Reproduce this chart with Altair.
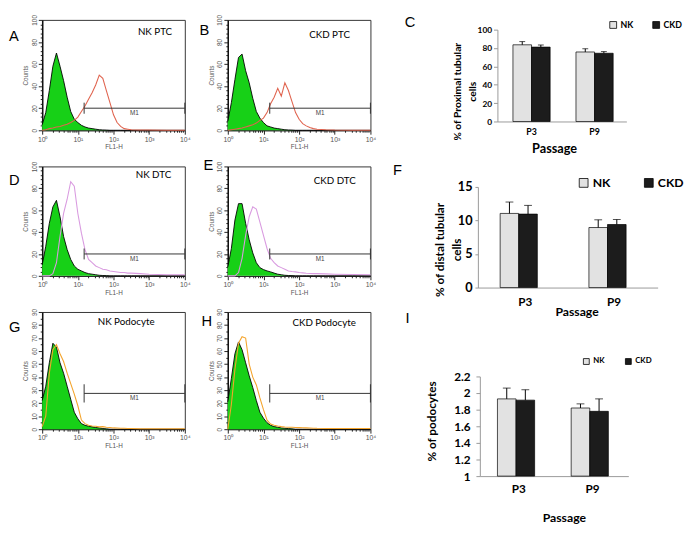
import altair as alt
import pandas as pd

# ---------------- Flow cytometry histograms (FL1-H, log axis) ----------------
LOG_BINS = [0.0, 0.1, 0.2, 0.3, 0.4, 0.5, 0.6, 0.7, 0.8, 0.9, 1.0, 1.1, 1.2, 1.3, 1.4,
            1.5, 1.6, 1.7, 1.8, 1.9, 2.0, 2.1, 2.2, 2.3, 2.4, 2.5, 2.75, 3.0, 3.5, 4.0]

A_NEG = [5, 16, 36, 58, 70, 58, 45, 30, 17, 10, 7, 4.5, 3, 2, 1.5, 1, 0.5, 0.3, 0.2, 0, 0, 0, 0, 0, 0, 0, 0, 0, 0, 0]
A_POS = [0, 0.5, 1.5, 2, 3, 3.5, 4.5, 5.5, 7, 9, 12, 17, 22, 28, 34, 41, 50, 47, 36, 25, 14, 7, 3.5, 1.5, 1, 0.5, 0.3, 0.2, 0, 0]
B_NEG = [8, 25, 46, 66, 69, 54, 43, 29, 17, 11, 7, 4, 3, 2, 1.5, 1, 0.5, 0.3, 0.2, 0, 0, 0, 0, 0, 0, 0, 0, 0, 0, 0]
B_POS = [0, 0.5, 1, 1.5, 2, 3, 4, 5, 6.5, 9, 11, 16, 24, 30, 38, 31, 43, 36, 26, 16, 10, 6, 4, 2.5, 1.5, 1, 0.5, 0.2, 0, 0]
D_NEG = [10, 27, 48, 63, 69, 54, 36, 24, 15, 9, 6, 4.5, 3, 2, 1.5, 1, 0.5, 0.3, 0.2, 0, 0, 0, 0, 0, 0, 0, 0, 0, 0, 0]
D_POS = [0, 0, 0, 2, 12, 36, 57, 70, 86, 82, 57, 39, 24, 15, 12, 9, 7.5, 6, 5.5, 4.5, 4, 3.5, 3, 3, 2.5, 2.5, 2, 1.5, 1, 1]
E_NEG = [8, 25, 51, 66, 66, 48, 33, 21, 12, 7.5, 5.7, 4.5, 3.6, 2.5, 1.5, 1, 0.5, 0.3, 0.2, 0, 0, 0, 0, 0, 0, 0, 0, 0, 0, 0]
E_POS = [0, 0, 0, 3, 16, 37, 54, 63, 61, 49, 37, 25, 16, 12, 9, 7.5, 6, 4.5, 4, 3.6, 3, 2.7, 2.4, 2.2, 2, 2, 1.8, 1.5, 1.2, 1]
G_NEG = [22, 33, 51, 66, 63, 51, 43, 33, 23, 13, 8, 4.3, 3, 2.3, 1.8, 1.3, 1, 0.5, 0.3, 0, 0, 0, 0, 0, 0, 0, 0, 0, 0, 0]
G_POS = [2, 10, 43, 61, 65, 58, 52, 43, 35, 27, 18, 7, 4.3, 3, 2.5, 2.3, 1.8, 2, 1.5, 1.3, 1, 0.9, 0.8, 0.7, 0.6, 0.5, 0.4, 0.3, 0.3, 0.3]
H_NEG = [21, 39, 58, 67, 61, 51, 41, 32, 22, 13, 8.5, 5, 3, 2, 1.5, 1, 0.7, 0.5, 0.3, 0, 0, 0, 0, 0, 0, 0, 0, 0, 0, 0]
H_POS = [0, 19, 46, 66, 71, 70, 50, 40, 34, 24, 15, 7, 4, 3, 2.4, 2, 1.7, 1.5, 1.5, 1.3, 1.2, 1.1, 1, 0.9, 0.8, 0.7, 0.6, 0.5, 0.5, 0.5]

HIST_LABELS = ["NK PTC", "CKD PTC", "NK DTC", "CKD DTC", "NK Podocyte", "CKD Podocyte"]
GATE_START = 15
GATE_END = 10000

# ---------------- Bar charts ----------------
PASSAGES = ["P3", "P9"]
GROUPS = ["NK", "CKD"]
PTC_NK = [83.5, 75.7]
PTC_NK_ERR = [3.5, 3.5]
PTC_CKD = [81.0, 74.3]
PTC_CKD_ERR = [2.3, 1.8]
DTC_NK = [11.05, 8.95]
DTC_NK_ERR = [1.7, 1.15]
DTC_CKD = [10.95, 9.4]
DTC_CKD_ERR = [1.3, 0.75]
POD_NK = [1.93, 1.82]
POD_NK_ERR = [0.13, 0.05]
POD_CKD = [1.915, 1.78]
POD_CKD_ERR = [0.125, 0.15]

HIST_W = 146
HIST_FONT = "Liberation Sans"
BAR_FONT = "Lato"
GREEN = "#17d017"
RED = "#e0644f"
PINK = "#d99be0"
ORANGE = "#f4a42c"
NK_FILL = "#e2e2e2"
CKD_FILL = "#1c1c1c"
ONE = pd.DataFrame({"k": [0]})


def hist_panel(neg, pos, pos_color, label, letter, letter_xy, label_xy,
               ymax, ystep, ymajor, gate_y, gate_half, height):
    df = pd.DataFrame({"fl": [10 ** e for e in LOG_BINS], "neg": neg, "pos": pos})
    dec = "abs(log(datum.value)/LN10 - round(log(datum.value)/LN10)) < 0.001"
    sup = "['\u2070','\u00b9','\u00b2','\u00b3','\u2074']"
    xvals = [m * 10 ** k for k in range(4) for m in range(1, 10)] + [10000]
    xaxis = alt.Axis(
        values=xvals, tickCount=500, title="FL1-H",
        labelExpr=dec + " ? '10' + " + sup + "[round(log(datum.value)/LN10)] : ''",
        tickSize={"condition": {"test": dec, "value": 4}, "value": 2},
        labelOverlap=False, labelFlush=False, labelFont=HIST_FONT, labelFontSize=7,
        labelColor="#555", labelPadding=1, titleFont=HIST_FONT, titleFontSize=6.5,
        titleFontWeight="normal", titleColor="#555", titlePadding=2,
        domainColor="#222", tickColor="#222", grid=False)
    yis = f"datum.value % {ymajor} === 0"
    yaxis = alt.Axis(
        values=list(range(0, ymax + 1, ystep)), tickCount=500, format="d", title="Counts",
        labelExpr=yis + " ? datum.label : ''",
        tickSize={"condition": {"test": yis, "value": 4}, "value": 2},
        labelOverlap=False, labelAngle=270, labelAlign="center", labelBaseline="bottom",
        labelFont=HIST_FONT, labelFontSize=6.5, labelColor="#555", labelPadding=1,
        titleFont=HIST_FONT, titleFontSize=6.5, titleFontWeight="normal", titleColor="#555",
        titlePadding=3, domainColor="#111", domainWidth=1.5, tickColor="#222", grid=False)
    xs = alt.Scale(type="log", domain=[1, 10000])
    ys = alt.Scale(domain=[0, ymax], nice=False)
    area = alt.Chart(df).mark_area(
        color=GREEN, opacity=1, line={"color": "black", "strokeWidth": 0.9}
    ).encode(x=alt.X("fl:Q", scale=xs, axis=xaxis), y=alt.Y("neg:Q", scale=ys, axis=yaxis))
    line = alt.Chart(df).mark_line(color=pos_color, strokeWidth=1.1).encode(
        x=alt.X("fl:Q", title="FL1-H"), y=alt.Y("pos:Q", title="Counts"))
    gate = alt.Chart(ONE).mark_rule(color="#333", strokeWidth=1).encode(
        x=alt.X(datum=GATE_START, title="FL1-H"), x2=alt.X2(datum=GATE_END),
        y=alt.Y(datum=gate_y, title="Counts"))
    gate_df = pd.DataFrame({"gx": [GATE_START, GATE_END]})
    ends = alt.Chart(gate_df).mark_rule(color="#333", strokeWidth=1).encode(
        x=alt.X("gx:Q", title="FL1-H"), y=alt.Y(datum=gate_y - gate_half, title="Counts"),
        y2=alt.Y2(datum=gate_y + gate_half))
    m1 = alt.Chart(ONE).mark_text(font=HIST_FONT, fontSize=6.5, color="#444", baseline="top", dy=2).encode(
        x=alt.X(datum=(GATE_START * GATE_END) ** 0.5, title="FL1-H"),
        y=alt.Y(datum=gate_y, title="Counts"), text=alt.value("M1"))
    ttl = alt.Chart(ONE).mark_text(font=BAR_FONT, fontSize=10, color="black", align="right",
                                   baseline="middle").encode(
        x=alt.value(label_xy[0]), y=alt.value(label_xy[1]), text=alt.value(label))
    let = alt.Chart(ONE).mark_text(font=HIST_FONT, fontSize=15, color="black", align="left",
                                   baseline="middle").encode(
        x=alt.value(letter_xy[0]), y=alt.value(letter_xy[1]), text=alt.value(letter))
    return alt.layer(area, line, gate, ends, m1, ttl, let).properties(
        width=HIST_W, height=height, view=alt.ViewBackground(stroke="#333", strokeWidth=1))


def bar_panel(nk, nk_err, ckd, ckd_err, ymin, ymax, yvals, ytitle, c):
    rows = []
    for i, p in enumerate(PASSAGES):
        rows.append({"Passage": p, "Group": "NK", "value": nk[i], "top": nk[i] + nk_err[i]})
        rows.append({"Passage": p, "Group": "CKD", "value": ckd[i], "top": ckd[i] + ckd_err[i]})
    df = pd.DataFrame(rows)
    xs = alt.Scale(range=[c["x0"], c["x1"]], paddingInner=c["pi"], paddingOuter=c["po"], align=c["align"])
    xaxis = alt.Axis(
        title="Passage", labelAngle=0, ticks=False, offset=c["xoff"], labelFont=BAR_FONT,
        labelFontWeight="bold", labelFontSize=c["xl"], labelColor="black", labelPadding=c["xlp"],
        domainColor="#999", titleFont=BAR_FONT, titleFontWeight="bold", titleFontSize=c["xt"],
        titleColor="black", titleX=c["tx"], titleY=c["ty"], titleBaseline="middle",
        titleAlign="center", grid=False)
    ys = alt.Scale(domain=[ymin, ymax], range=[c["y0"], c["y1"]], nice=False, zero=False)
    yaxis = alt.Axis(
        values=yvals, tickCount=500, format=".1~f", title=ytitle, offset=-c["x0"],
        labelOverlap=False, labelFont=BAR_FONT, labelFontWeight="bold", labelFontSize=c["yl"],
        labelColor="black", labelPadding=c["ylp"], tickSize=c["yts"], tickColor="#999",
        domainColor="#999", titleFont=BAR_FONT, titleFontWeight="bold", titleFontSize=c["ytf"],
        titleColor="black", titleX=c["ytx"], titleY=c["yty"], titleBaseline="middle",
        titleAlign="center", titleLineHeight=c["ylh"], grid=False)
    xo = alt.XOffset("Group:N", sort=GROUPS, scale=alt.Scale(paddingInner=0, paddingOuter=0))
    legend = alt.Legend(
        orient="none", legendX=c["lx"], legendY=c["ly"], direction="horizontal", title=None,
        symbolType="square", symbolSize=c["ls"], symbolStrokeColor="black", symbolStrokeWidth=0.8,
        symbolOpacity=1, labelFont=BAR_FONT, labelFontWeight="bold", labelFontSize=c["lf"],
        labelColor="black", labelOffset=3, columnPadding=c["lcp"], padding=0)
    bars = alt.Chart(df).mark_bar(stroke="black", strokeWidth=0.7).encode(
        x=alt.X("Passage:N", sort=PASSAGES, scale=xs, axis=xaxis),
        xOffset=xo,
        y=alt.Y("value:Q", scale=ys, axis=yaxis),
        y2=alt.Y2(datum=ymin),
        fill=alt.Fill("Group:N", sort=GROUPS,
                      scale=alt.Scale(domain=GROUPS, range=[NK_FILL, CKD_FILL]), legend=legend))
    err = alt.Chart(df).mark_rule(color="black", strokeWidth=1).encode(
        x=alt.X("Passage:N", sort=PASSAGES, title="Passage"),
        xOffset=alt.XOffset("Group:N", sort=GROUPS),
        y=alt.Y("value:Q", title=ytitle), y2="top:Q")
    cap = alt.Chart(df).mark_tick(color="black", thickness=1, size=c["cap"]).encode(
        x=alt.X("Passage:N", sort=PASSAGES, title="Passage"),
        xOffset=alt.XOffset("Group:N", sort=GROUPS),
        y=alt.Y("top:Q", title=ytitle))
    let = alt.Chart(ONE).mark_text(font=HIST_FONT, fontSize=15, color="black", align="left",
                                   baseline="middle").encode(
        x=alt.value(c["letx"]), y=alt.value(c["lety"]), text=alt.value(c["letter"]))
    return alt.layer(bars, err, cap, let).properties(width=c["w"], height=c["h"])


C_CFG = dict(w=218, h=104, x0=86, x1=218, y0=104, y1=10, pi=0.41, po=0.228, align=0.54, xoff=0,
             xl=9, xlp=6, xt=13, tx=144, ty=28, yl=8.5, ylp=2, yts=4, ytf=10.5, ytx=-40.5,
             yty=73, ylh=15, lx=200, ly=0.5, ls=49, lf=9, lcp=17, cap=6,
             letter="C", letx=-9, lety=2)
F_CFG = dict(w=250, h=112, x0=66, x1=250, y0=124, y1=21, pi=0.435, po=0.23, align=0.545, xoff=12,
             xl=12, xlp=9, xt=12.5, tx=167, ty=25, yl=13, ylp=3, yts=3, ytf=12, ytx=-39,
             yty=85, ylh=17, lx=168, ly=10.5, ls=81, lf=12.5, lcp=32.7, cap=8,
             letter="F", letx=-21, lety=4)
I_CFG = dict(w=220, h=168, x0=68, x1=220, y0=168, y1=66, pi=0.424, po=0.219, align=0.545, xoff=0,
             xl=12, xlp=8, xt=12.5, tx=154, ty=42, yl=12, ylp=6, yts=4, ytf=12, ytx=-49.5,
             yty=111.5, ylh=15, lx=173, ly=46.5, ls=36, lf=8, lcp=19, cap=8,
             letter="I", letx=-8, lety=6)

pA = hist_panel(A_NEG, A_POS, RED, HIST_LABELS[0], "A", (-34, 17), (133, 12), 100, 4, 20, 20, 5, 113)
pB = hist_panel(B_NEG, B_POS, RED, HIST_LABELS[1], "B", (-29, 10), (125, 16), 100, 4, 20, 20, 5, 113)
pD = hist_panel(D_NEG, D_POS, PINK, HIST_LABELS[2], "D", (-34, 14), (132, 9), 100, 4, 20, 20, 5, 112)
pE = hist_panel(E_NEG, E_POS, PINK, HIST_LABELS[3], "E", (-25, -1), (131, 15), 100, 4, 20, 20, 5, 112)
pG = hist_panel(G_NEG, G_POS, ORANGE, HIST_LABELS[4], "G", (-34, 15), (115, 10), 90, 5, 10, 27.5, 7, 120)
pH = hist_panel(H_NEG, H_POS, ORANGE, HIST_LABELS[5], "H", (-27, 9), (131, 11), 90, 5, 10, 27.5, 7, 120)

pC = bar_panel(PTC_NK, PTC_NK_ERR, PTC_CKD, PTC_CKD_ERR, 0, 100, [0, 20, 40, 60, 80, 100],
               ["% of Proximal tubular", "cells"], C_CFG)
pF = bar_panel(DTC_NK, DTC_NK_ERR, DTC_CKD, DTC_CKD_ERR, 0, 15, [0, 5, 10, 15],
               ["% of distal tubular", "cells"], F_CFG)
pI = bar_panel(POD_NK, POD_NK_ERR, POD_CKD, POD_CKD_ERR, 1, 2.2, [1, 1.2, 1.4, 1.6, 1.8, 2, 2.2],
               "% of podocytes", I_CFG)

chart = alt.concat(
    pA, pB, pC, pD, pE, pF, pG, pH, pI,
    columns=3, spacing={"row": 37, "column": 44}, bounds="flush", align="each"
).resolve_scale(fill="independent").properties(
    padding=0, background="white"
).configure(font=HIST_FONT).configure_view(stroke="transparent").configure_axis(
    grid=False, labelOverlap=False)

chart.save("out.html", embed_options={"renderer": "svg", "actions": False})
